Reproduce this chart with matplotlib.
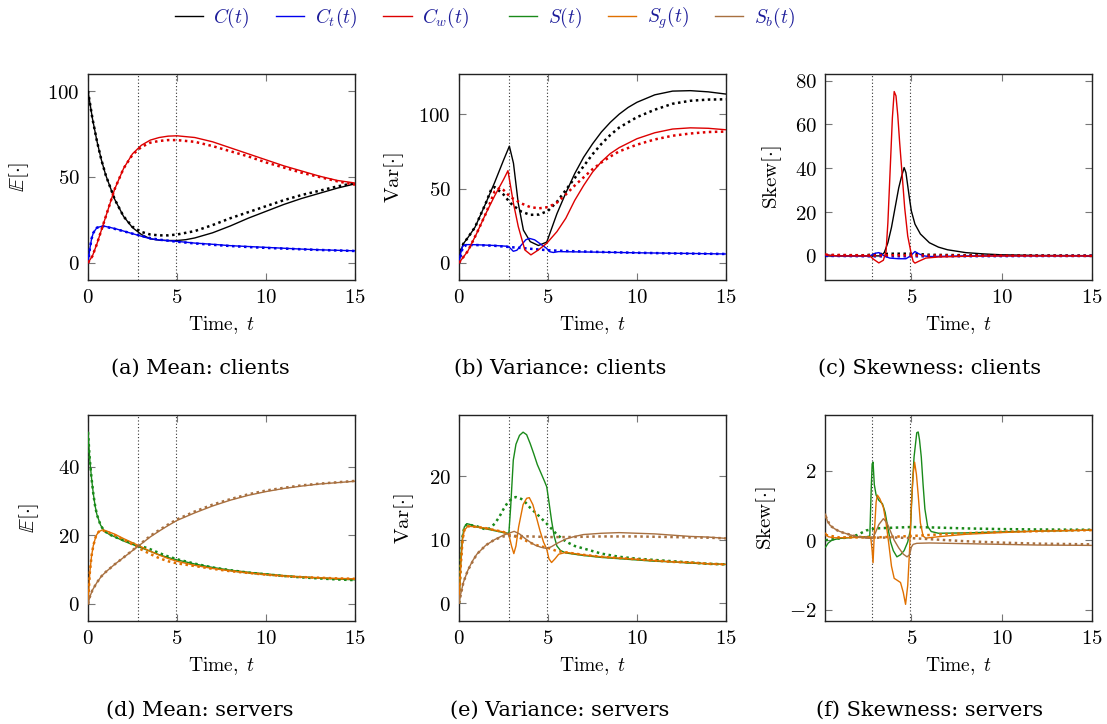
import matplotlib
matplotlib.use("Agg")
import matplotlib.pyplot as plt
from matplotlib.lines import Line2D
from matplotlib.ticker import FuncFormatter

plt.rcParams['mathtext.fontset'] = 'cm'
plt.rcParams['font.family'] = ['DejaVu Serif']

# switching times (dotted vertical lines)
t_switch = [2.83, 4.93]

# -------- (a) mean, clients --------
a_C_t = [0, 0.25, 0.5, 0.75, 1, 1.5, 2, 2.5, 3, 3.5, 4, 4.5, 5, 5.5, 6, 7, 8, 9, 10, 11, 12, 13, 14, 15]
a_C = [100, 84, 71, 60, 51, 37, 27, 20.5, 16.5, 14, 13.2, 13, 13, 13.5, 14.5, 17.5, 21.5, 26, 30, 34, 37.5, 40.5, 43.5, 46]
a_Cd_t = [0, 0.25, 0.5, 0.75, 1, 1.5, 2, 2.5, 3, 3.5, 4, 4.5, 5, 6, 7, 8, 9, 10, 11, 12, 13, 14, 15]
a_Cd = [100, 84, 71, 60, 51, 37, 27, 21, 18, 16.5, 16, 16, 16.5, 18.5, 22, 26, 29.5, 33, 36.5, 39.5, 42, 44.5, 46.5]
a_Cw_t = [0, 0.25, 0.5, 0.75, 1, 1.5, 2, 2.5, 3, 3.5, 4, 4.5, 5, 6, 7, 8, 9, 10, 11, 12, 13, 14, 15]
a_Cw = [0, 4, 11, 19, 27, 43, 55, 63.5, 68.5, 71.5, 73, 73.8, 74, 73, 70.5, 67, 63.5, 60, 56.5, 53.5, 50.5, 48, 46.5]
a_Cwd = [0, 4, 11, 19, 27, 43, 55, 63, 67.5, 70, 71, 71.5, 71.5, 70.5, 68, 65, 62, 58.5, 55.5, 52.5, 50, 47.5, 45.5]
a_Ct_t = [0, 0.1, 0.2, 0.3, 0.5, 0.85, 1.5, 2, 2.5, 3, 3.5, 4, 5, 6, 7, 8, 9, 10, 11, 12, 13, 14, 15]
a_Ct = [0, 8, 14, 17.5, 20.5, 21.5, 20, 18.5, 17, 15.5, 14, 13.3, 12.5, 11.5, 10.8, 10, 9.5, 9, 8.5, 8, 7.6, 7.3, 7]
a_Ctd = [0, 8, 14, 17.5, 20.5, 21.3, 19.8, 18.4, 17, 15.7, 14.4, 13.5, 12.3, 11.3, 10.5, 9.8, 9.2, 8.7, 8.3, 7.9, 7.5, 7.2, 6.9]

# -------- (b) variance, clients --------
b_C_t = [0, 0.1, 0.25, 0.5, 0.9, 1.5, 2, 2.5, 2.83, 3.06, 3.33, 3.62, 4, 4.46, 4.93, 5.5, 6, 6.5, 7, 7.5, 8, 8.5, 9, 9.5, 10, 11, 12, 13, 14, 15]
b_C = [0, 8, 13, 17, 24, 40, 54, 69, 78.5, 67, 40, 22, 14.3, 11.7, 14, 33, 47, 60, 71, 80, 88, 94.5, 100, 104.5, 108, 113, 115.5, 115.8, 115, 113.5]
b_Cd_t = [0, 0.1, 0.25, 0.5, 0.9, 1.5, 1.83, 2, 2.5, 2.83, 3, 3.5, 4, 4.5, 5, 5.5, 6, 6.5, 7, 7.5, 8, 8.5, 9, 10, 11, 12, 13, 14, 15]
b_Cd = [0, 8, 13, 17, 24, 40, 50, 51, 46, 41, 39, 34.5, 32.3, 32.5, 35, 41, 49, 57, 65, 73, 80, 86, 91, 98, 103, 107, 109, 109.8, 110]
b_Cw_t = [0, 0.5, 1, 1.5, 2, 2.5, 2.75, 3.06, 3.33, 3.7, 4.04, 4.46, 4.93, 5.5, 6, 6.5, 7, 7.5, 8, 8.5, 9, 10, 11, 12, 13, 14, 15]
b_Cw = [0, 8, 20, 33, 45, 56, 62, 40, 24.4, 8.7, 5.4, 8.7, 13.2, 21, 30, 42, 52, 61, 68, 73.5, 77.5, 83.5, 87.5, 90, 90.8, 90.5, 89.5]
b_Cwd_t = [0, 0.5, 1, 1.5, 2, 2.3, 2.5, 2.83, 3, 3.5, 4, 4.5, 5, 5.5, 6, 6.5, 7, 7.5, 8, 8.5, 9, 10, 11, 12, 13, 14, 15]
b_Cwd = [0, 8, 20, 33, 48, 50.5, 49, 45, 43.5, 40, 37.5, 36.7, 37.5, 40.5, 46, 52, 57.5, 63, 67.5, 71.5, 75, 79.5, 83, 85.5, 87, 88, 88.3]
b_Ct_t = [0, 0.1, 0.2, 0.3, 0.5, 1, 2, 2.7, 2.83, 3.05, 3.25, 3.5, 3.75, 3.95, 4.25, 4.6, 4.9, 5.1, 5.3, 5.6, 6, 8, 10, 12, 15]
b_Ct = [0, 7, 11, 12, 12.3, 12.2, 11.7, 11.2, 10.5, 7.8, 8.5, 12, 15.5, 16.5, 15.5, 12.5, 10, 7.5, 7.0, 7.6, 7.5, 7.2, 6.8, 6.5, 6]
b_Ctd_t = [0, 0.2, 0.4, 1, 2, 3, 4, 5, 6, 8, 10, 12, 15]
b_Ctd = [0, 10, 12, 12, 11.5, 10.5, 9.5, 8.5, 8, 7.3, 6.8, 6.4, 6]

# -------- (c) skewness, clients --------
c_Cw_t = [0.25, 0.5, 1, 2, 2.7, 2.9, 3.2, 3.45, 3.6, 3.7, 3.8, 3.95, 4.05, 4.15, 4.25, 4.35, 4.5, 4.63, 4.8, 4.98, 5.1, 5.2, 5.4, 5.8, 6.5, 8, 10, 15]
c_Cw = [0.8, 0.2, 0, 0, 0, -1.5, -3.2, -2, 2, 15, 34, 63, 75, 73, 64, 52, 36, 22, 9, 1.5, -2.5, -3.3, -2.5, -1, -0.5, -0.2, 0, 0]
c_C_t = [0.25, 1, 2, 3.3, 3.5, 3.7, 3.9, 4.1, 4.3, 4.45, 4.6, 4.7, 4.8, 4.9, 5.0, 5.2, 5.5, 6, 6.5, 7, 8, 9, 10, 12, 15]
c_C = [0.2, 0, 0, 0, 1.5, 6, 13, 22, 31, 36, 40.3, 38, 32, 26, 20.5, 14.5, 10, 6, 4, 2.8, 1.5, 0.9, 0.5, 0.2, 0.1]
c_Ct_t = [0.25, 1, 2.7, 3.0, 3.2, 3.5, 3.8, 4.3, 4.7, 4.95, 5.2, 5.4, 5.7, 6, 8, 15]
c_Ct = [0.3, 0, 0, 1.2, 1.5, 0, -1, -1.3, -1.3, 0, 2, 1, 0, -0.3, 0, 0]
c_Cd_t = [0.25, 2.5, 3, 4, 5, 6, 8, 15]
c_Cd = [0.3, 0.3, 0.8, 1, 1, 0.5, 0.3, 0.1]
c_Cwd_t = [0.25, 3, 4, 5, 15]
c_Cwd = [0.5, 0.2, 0.3, 0.2, 0]
c_Ctd_t = [0.25, 3, 5, 15]
c_Ctd = [0, -0.2, -0.2, 0]

# -------- (d) mean, servers --------
d_S_t = [0, 0.1, 0.2, 0.3, 0.4, 0.5, 0.7, 0.9, 1.2, 1.6, 2, 2.5, 3, 3.5, 4, 4.5, 5, 6, 7, 8, 9, 10, 11, 12, 13, 14, 15]
d_S = [50, 42, 36.5, 32, 28.5, 26, 23, 21.3, 20.2, 19.3, 18.3, 17.3, 16.3, 15.3, 14.3, 13.5, 12.8, 11.6, 10.6, 9.8, 9.2, 8.7, 8.2, 7.8, 7.5, 7.2, 7]
d_Sd = [50, 42, 36.5, 32, 28.5, 26, 23, 21.3, 20.2, 19.3, 18.5, 17.6, 16.8, 15.9, 14.8, 13.8, 13, 11.7, 10.6, 9.8, 9.1, 8.6, 8.1, 7.7, 7.4, 7.1, 6.9]
d_Sg_t = [0, 0.1, 0.2, 0.3, 0.45, 0.6, 0.8, 1, 1.5, 2, 2.5, 3, 3.5, 4, 4.5, 5, 6, 7, 8, 9, 10, 11, 12, 13, 14, 15]
d_Sg = [0, 9, 14, 17, 19.8, 21, 21.5, 21.3, 20.3, 19, 17.8, 16.6, 15.3, 14.2, 13.2, 12.4, 11.2, 10.3, 9.6, 9, 8.5, 8.1, 7.8, 7.6, 7.4, 7.3]
d_Sgd = [0, 9, 14, 17, 19.8, 21, 21.4, 21.1, 20, 18.7, 17.3, 15.8, 14.5, 13.3, 12.4, 11.8, 11, 10.2, 9.5, 9, 8.5, 8.1, 7.8, 7.6, 7.4, 7.3]
d_Sb_t = [0, 0.1, 0.25, 0.5, 0.75, 1, 1.5, 2, 2.5, 3, 3.5, 4, 4.5, 5, 6, 7, 8, 9, 10, 11, 12, 13, 14, 15]
d_Sb = [0, 2, 4, 6.2, 8, 9.3, 11.5, 13.5, 15.5, 17.5, 19.5, 21.2, 22.8, 24.3, 26.5, 28.5, 30.2, 31.6, 32.7, 33.6, 34.3, 34.9, 35.3, 35.7]
d_Sbd = [0, 2, 4, 6.2, 8, 9.3, 11.5, 13.5, 15.6, 17.7, 19.8, 21.5, 23.1, 24.6, 26.9, 28.9, 30.5, 31.9, 33, 33.8, 34.5, 35, 35.4, 35.8]

# -------- (e) variance, servers --------
e_S_t = [0, 0.1, 0.2, 0.3, 0.45, 0.6, 1, 1.5, 2, 2.5, 2.8, 2.9, 3.05, 3.2, 3.4, 3.6, 3.8, 4, 4.2, 4.4, 4.6, 4.8, 4.93, 5.05, 5.2, 5.35, 5.5, 5.7, 6, 7, 8, 9, 10, 11, 12, 13, 14, 15]
e_S = [0, 7, 10.5, 12, 12.5, 12.4, 12, 11.7, 11.4, 11.1, 11, 15, 22.5, 25, 26.4, 26.9, 26.5, 25.1, 23.5, 21.8, 20.5, 19.2, 18.3, 16, 13, 10.5, 9, 8.3, 7.9, 7.5, 7.2, 7, 6.8, 6.6, 6.5, 6.3, 6.2, 6.1]
e_Sd_t = [0, 0.1, 0.2, 0.3, 0.45, 1, 1.5, 1.75, 2, 2.25, 2.5, 2.75, 3, 3.2, 3.5, 3.75, 4, 4.5, 5, 5.5, 6, 6.5, 7, 8, 9, 10, 11, 12, 13, 14, 15]
e_Sd = [0, 7, 10.5, 12, 12.4, 12.1, 11.6, 11.8, 12.5, 13.5, 14.8, 15.9, 16.5, 16.7, 16.4, 15.8, 15, 13.7, 12.3, 10.8, 9.7, 9, 8.6, 7.8, 7.3, 7, 6.8, 6.6, 6.4, 6.2, 6.1]
e_Sg_t = [0, 0.1, 0.2, 0.3, 0.5, 1, 1.5, 2, 2.5, 2.8, 2.95, 3.08, 3.2, 3.35, 3.6, 3.8, 3.95, 4.15, 4.35, 4.55, 4.75, 4.93, 5.05, 5.2, 5.4, 5.6, 6, 7, 8, 9, 10, 11, 12, 13, 14, 15]
e_Sg = [0, 6, 10, 11.5, 12.1, 12, 11.8, 11.5, 11.2, 10.8, 9, 7.8, 9, 12, 15.5, 16.5, 16.6, 15.5, 13.5, 11.4, 9.6, 8.5, 7, 6.4, 7, 7.7, 8, 7.6, 7.3, 7.1, 6.9, 6.7, 6.5, 6.4, 6.2, 6.1]
e_Sgd_t = [0, 0.1, 0.2, 0.3, 0.5, 1, 1.5, 2, 2.5, 2.8, 3.5, 4, 4.5, 5, 5.5, 6, 7, 8, 9, 10, 11, 12, 13, 14, 15]
e_Sgd = [0, 6, 10, 11.5, 12.1, 12, 11.8, 11.5, 11.2, 10.8, 10.2, 9.5, 9, 8.7, 8.2, 8, 7.6, 7.3, 7.1, 6.9, 6.7, 6.5, 6.4, 6.2, 6.1]
e_Sb_t = [0, 0.1, 0.25, 0.5, 0.75, 1, 1.5, 2, 2.5, 2.8, 3.1, 3.4, 3.7, 4, 4.3, 4.6, 4.93, 5.2, 5.5, 6, 6.5, 7, 8, 9, 10, 11, 12, 13, 14, 15]
e_Sb = [0, 1.5, 3.3, 5.2, 6.6, 7.7, 9.1, 10, 10.7, 11, 11.3, 10.9, 10.2, 9.6, 9.1, 8.8, 8.6, 8.9, 9.4, 10.1, 10.5, 10.8, 11, 11.1, 11, 10.9, 10.7, 10.5, 10.4, 10.2]
e_Sbd_t = [0, 0.25, 0.5, 1, 1.5, 2, 2.5, 3, 4, 5, 6, 8, 10, 12, 14, 15]
e_Sbd = [0, 3.3, 5.2, 7.7, 9.1, 10, 10.5, 10.6, 10.5, 10.4, 10.4, 10.5, 10.5, 10.4, 10.3, 10.2]

# -------- (f) skewness, servers --------
f_S_t = [0.25, 0.4, 0.6, 1, 1.5, 2, 2.5, 2.7, 2.78, 2.83, 2.88, 2.95, 3.05, 3.2, 3.4, 3.55, 3.7, 3.85, 4.0, 4.2, 4.4, 4.6, 4.8, 4.95, 5.05, 5.15, 5.3, 5.38, 5.45, 5.55, 5.65, 5.75, 5.9, 6.1, 6.5, 8, 10, 12, 15]
f_S = [-0.2, -0.08, 0, 0.05, 0.07, 0.09, 0.1, 0.12, 1.5, 2.2, 2.25, 1.6, 1.3, 1.15, 1.05, 0.8, 0.35, -0.05, -0.3, -0.48, -0.42, -0.3, -0.05, 0.3, 1.5, 2.4, 3.1, 3.12, 2.9, 2.4, 1.6, 0.9, 0.4, 0.25, 0.2, 0.21, 0.24, 0.26, 0.29]
f_Sg_t = [0.25, 0.4, 0.7, 1, 2, 2.75, 2.83, 2.88, 2.95, 3.05, 3.12, 3.25, 3.45, 3.6, 3.75, 3.9, 4.05, 4.2, 4.4, 4.55, 4.68, 4.8, 4.9, 5.0, 5.1, 5.18, 5.28, 5.38, 5.5, 5.65, 5.8, 6.5, 8, 10, 12, 15]
f_Sg = [0.2, 0.1, 0.07, 0.07, 0.08, 0.09, -0.3, -0.65, 0.2, 1.1, 1.3, 1.2, 0.95, 0.5, -0.1, -0.75, -1.1, -1.15, -1.22, -1.5, -1.85, -1.3, -0.3, 1.0, 1.9, 2.25, 1.9, 1.3, 0.5, 0.12, 0.06, 0.1, 0.17, 0.22, 0.26, 0.29]
f_Sb_t = [0.25, 0.35, 0.5, 0.75, 1, 1.5, 2, 2.5, 2.85, 3.0, 3.2, 3.45, 3.65, 3.85, 4.05, 4.3, 4.55, 4.76, 4.9, 5.0, 5.1, 5.3, 6, 8, 10, 12, 15]
f_Sb = [0.75, 0.55, 0.43, 0.33, 0.26, 0.17, 0.1, 0.06, 0.05, 0.2, 0.45, 0.62, 0.5, 0.25, 0.0, -0.22, -0.4, -0.48, -0.42, -0.2, -0.12, -0.09, -0.08, -0.1, -0.12, -0.14, -0.15]
f_Sd_t = [0.25, 1, 1.5, 2, 2.5, 3, 4, 5, 6, 8, 10, 12, 15]
f_Sd = [0.0, 0.05, 0.08, 0.15, 0.28, 0.34, 0.36, 0.38, 0.37, 0.34, 0.32, 0.31, 0.3]
f_Sgd_t = [0.25, 1, 3, 5, 7, 10, 15]
f_Sgd = [0.15, 0.08, 0.08, 0.12, 0.18, 0.24, 0.29]
f_Sbd_t = [0.25, 0.5, 1, 2, 3, 4, 5, 6, 8, 10, 12, 15]
f_Sbd = [0.7, 0.42, 0.25, 0.1, 0.07, 0.08, 0.06, 0.03, -0.03, -0.07, -0.1, -0.12]

BLACK = 'black'
BLUE = '#0000ee'
RED = '#dd0000'
GREEN = '#1a8a1a'
ORANGE = '#e07000'
BROWN = '#a87040'
DOT = (0, (1, 1.4))

W, H = 1107, 724
fig = plt.figure(figsize=(W / 100, H / 100), dpi=100)

cols = [88, 459, 825]
rows = [74, 415]
aw, ah = 267, 206


def make_ax(col, row):
    ax = fig.add_axes([cols[col] / W, 1 - (rows[row] + ah) / H, aw / W, ah / H])
    ax.tick_params(direction='in', top=True, right=True, length=5, width=0.8,
                   color='#777777', labelsize=15, pad=6)
    for s in ax.spines.values():
        s.set_linewidth(1.0)
        s.set_color('#222222')
    ax.xaxis.set_major_formatter(FuncFormatter(lambda v, p: f'${v:g}$'))
    ax.yaxis.set_major_formatter(FuncFormatter(lambda v, p: f'${v:g}$'))
    for ts in t_switch:
        ax.axvline(ts, color='#333333', lw=0.8, ls=(0, (1, 2)), zorder=1)
    ax.set_xlabel(r'$\mathrm{Time},\ t$', fontsize=14, labelpad=5)
    return ax


def solid(ax, t, y, c):
    ax.plot(t, y, color=c, lw=1.0, zorder=3)


def dotted(ax, t, y, c):
    ax.plot(t, y, color=c, lw=1.8, ls=DOT, zorder=3)


# (a)
ax = make_ax(0, 0)
solid(ax, a_C_t, a_C, BLACK); dotted(ax, a_Cd_t, a_Cd, BLACK)
solid(ax, a_Ct_t, a_Ct, BLUE); dotted(ax, a_Ct_t, a_Ctd, BLUE)
solid(ax, a_Cw_t, a_Cw, RED); dotted(ax, a_Cw_t, a_Cwd, RED)
ax.set_xlim(0, 15); ax.set_ylim(-10, 110)
ax.set_xticks([0, 5, 10, 15]); ax.set_yticks([0, 50, 100])
ax.set_ylabel(r'$\mathbb{E}[\cdot]$', fontsize=15, labelpad=12)

# (b)
ax = make_ax(1, 0)
solid(ax, b_C_t, b_C, BLACK); dotted(ax, b_Cd_t, b_Cd, BLACK)
solid(ax, b_Ct_t, b_Ct, BLUE); dotted(ax, b_Ctd_t, b_Ctd, BLUE)
solid(ax, b_Cw_t, b_Cw, RED); dotted(ax, b_Cwd_t, b_Cwd, RED)
ax.set_xlim(0, 15); ax.set_ylim(-11.5, 127)
ax.set_xticks([0, 5, 10, 15]); ax.set_yticks([0, 50, 100])
ax.set_ylabel(r'$\mathrm{Var}[\cdot]$', fontsize=15, labelpad=9)

# (c)
ax = make_ax(2, 0)
solid(ax, c_C_t, c_C, BLACK); dotted(ax, c_Cd_t, c_Cd, BLACK)
solid(ax, c_Ct_t, c_Ct, BLUE); dotted(ax, c_Ctd_t, c_Ctd, BLUE)
solid(ax, c_Cw_t, c_Cw, RED); dotted(ax, c_Cwd_t, c_Cwd, RED)
ax.set_xlim(0.22, 15); ax.set_ylim(-11, 83)
ax.set_xticks([5, 10, 15]); ax.set_yticks([0, 20, 40, 60, 80])
ax.set_ylabel(r'$\mathrm{Skew}[\cdot]$', fontsize=15, labelpad=8)

# (d)
ax = make_ax(0, 1)
solid(ax, d_S_t, d_S, GREEN); dotted(ax, d_S_t, d_Sd, GREEN)
solid(ax, d_Sg_t, d_Sg, ORANGE); dotted(ax, d_Sg_t, d_Sgd, ORANGE)
solid(ax, d_Sb_t, d_Sb, BROWN); dotted(ax, d_Sb_t, d_Sbd, BROWN)
ax.set_xlim(0, 15); ax.set_ylim(-5, 55)
ax.set_xticks([0, 5, 10, 15]); ax.set_yticks([0, 20, 40])
ax.set_ylabel(r'$\mathbb{E}[\cdot]$', fontsize=15, labelpad=12)

# (e)
ax = make_ax(1, 1)
solid(ax, e_S_t, e_S, GREEN); dotted(ax, e_Sd_t, e_Sd, GREEN)
solid(ax, e_Sg_t, e_Sg, ORANGE); dotted(ax, e_Sgd_t, e_Sgd, ORANGE)
solid(ax, e_Sb_t, e_Sb, BROWN); dotted(ax, e_Sbd_t, e_Sbd, BROWN)
ax.set_xlim(0, 15); ax.set_ylim(-2.8, 29.6)
ax.set_xticks([0, 5, 10, 15]); ax.set_yticks([0, 10, 20])
ax.set_ylabel(r'$\mathrm{Var}[\cdot]$', fontsize=15, labelpad=9)

# (f)
ax = make_ax(2, 1)
solid(ax, f_S_t, f_S, GREEN); dotted(ax, f_Sd_t, f_Sd, GREEN)
solid(ax, f_Sg_t, f_Sg, ORANGE); dotted(ax, f_Sgd_t, f_Sgd, ORANGE)
solid(ax, f_Sb_t, f_Sb, BROWN); dotted(ax, f_Sbd_t, f_Sbd, BROWN)
ax.set_xlim(0.22, 15); ax.set_ylim(-2.33, 3.61)
ax.set_xticks([5, 10, 15]); ax.set_yticks([-2, 0, 2])
ax.set_ylabel(r'$\mathrm{Skew}[\cdot]$', fontsize=15, labelpad=8)

# -------- captions --------
captions = ['(a) Mean: clients', '(b) Variance: clients', '(c) Skewness: clients',
            '(d) Mean: servers', '(e) Variance: servers', '(f) Skewness: servers']
cap_x = [200, 560, 930]
cap_y = [368, 710]
for i, cap in enumerate(captions):
    fig.text(cap_x[i % 3] / W, 1 - cap_y[i // 3] / H, cap, ha='center', va='center',
             fontsize=15, family='DejaVu Serif')

# -------- legend --------
labels1 = [r'$C(t)$', r'$C_t(t)$', r'$C_w(t)$']
labels2 = [r'$S(t)$', r'$S_g(t)$', r'$S_b(t)$']
h1 = [Line2D([], [], color=c, lw=1.0) for c in [BLACK, BLUE, RED]]
h2 = [Line2D([], [], color=c, lw=1.0) for c in [GREEN, ORANGE, BROWN]]
for hs, labs, xc in [(h1, labels1, 322 / W), (h2, labels2, 652 / W)]:
    leg = fig.legend(hs, labs, loc='center', bbox_to_anchor=(xc, 1 - 18 / H), ncol=3,
                     frameon=False, fontsize=14, handlelength=1.45, handletextpad=0.55,
                     columnspacing=1.35, borderpad=0.1)
    for txt in leg.get_texts():
        txt.set_color('#1c1c9a')

fig.savefig('out.png', dpi=100)
